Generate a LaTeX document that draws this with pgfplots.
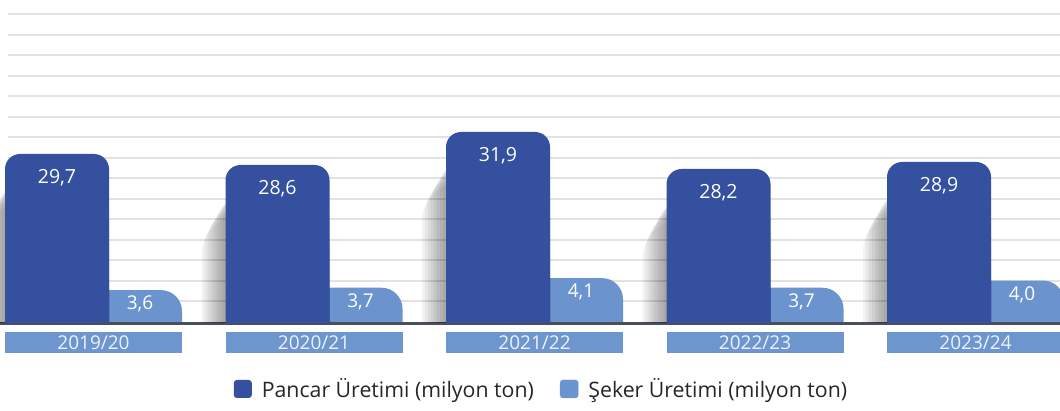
\documentclass[border=0pt]{standalone}
\usepackage{fontspec}
\setmainfont{Open Sans}
\usepackage{pgfplots}
\pgfplotsset{compat=1.18}
\definecolor{beet}{RGB}{52,80,158}
\definecolor{sugar}{RGB}{107,148,206}
\definecolor{yearbox}{RGB}{109,150,207}
\definecolor{yeartext}{RGB}{238,242,248}
\definecolor{basecol}{RGB}{74,79,94}
\definecolor{gridcol}{RGB}{226,226,226}
\pgfplotstableread{
x beet sugar
0 29.7 3.6
1 28.6 3.7
2 31.9 4.1
3 28.2 3.7
4 28.9 4.0
}\datatable
\pgfplotsset{
  valuelabel/.style={nodes near coords={\pgfmathprintnumber[fixed,fixed zerofill,precision=1,use comma]{\pgfplotspointmeta}}},
  shadowlayer/.style n args={3}{ybar, bar width={104pt+#1}, bar shift={-36.5pt-0.5*#1}, fill=black, fill opacity=0.05, draw=none,
    rounded corners=#3, yshift=#2, forget plot},
}
\begin{document}
\fontsize{19}{22}\selectfont
\begin{tikzpicture}
% background grid
\begin{axis}[
  at={(8pt,86.5pt)}, anchor=south west,
  width=1052pt, height=313.5pt, scale only axis,
  xmin=0, xmax=1, ymin=-1.5, ymax=312,
  axis line style={draw=none}, tick style={draw=none},
  xtick=\empty, yticklabels={},
  ytick={20.53,41.06,61.59,82.12,102.65,123.18,143.71,164.24,184.77,205.3,225.83,246.36,266.89,287.42,307.95},
  ymajorgrids, major grid style={draw=gridcol, line width=2pt},
]
\end{axis}
% sugar (behind) + baseline
\begin{axis}[
  at={(0pt,56.5pt)}, anchor=south west,
  width=1060pt, height=343.5pt, scale only axis,
  xmin=-0.42404, xmax=4.38322, ymin=0.96, ymax=15.27,
  axis line style={draw=none}, tick style={draw=none},
  xtick=\empty, ytick=\empty,
  extra y ticks={2.21}, extra y tick labels={},
  extra y tick style={ymajorgrids, major grid style={draw=basecol, line width=3pt}},
  clip=false,
  /pgf/number format/assume math mode=true,
]
\clip (axis cs:-0.42404,2.2725) rectangle (axis cs:4.38322,15.27);
\addplot[ybar, bar width=104pt, bar shift=36.5pt, fill=sugar, draw=none,
  rounded corners=21pt, valuelabel,
  every node near coord/.append style={anchor=center, yshift=-14pt, xshift=46.5pt, text=white, font=\fontsize{19}{22}\selectfont, rounded corners=0pt},
] table[x=x, y=sugar] {\datatable};
\end{axis}
% beet (front)
\begin{axis}[
  at={(0pt,56.5pt)}, anchor=south west,
  width=1060pt, height=343.5pt, scale only axis,
  xmin=-0.42404, xmax=4.38322, ymin=9.75, ymax=44.1,
  axis line style={draw=none}, hide y axis,
  xtick={0,1,2,3,4},
  xticklabels={2019/20,2020/21,2021/22,2022/23,2023/24},
  xtick style={draw=none},
  xticklabel style={fill=yearbox, text=yeartext, minimum width=177pt, minimum height=21pt, inner sep=0pt, anchor=south, yshift=0.5pt, font=\fontsize{19}{21}\selectfont},
  clip=false,
  /pgf/number format/assume math mode=true,
  legend style={at={(axis description cs:0.5108,-0.1033)}, anchor=center, draw=none, fill=none,
    legend columns=2, font=\fontsize{21.3}{24}\selectfont, text=black!85,
    /tikz/every odd column/.append style={column sep=8pt},
    /tikz/every even column/.append style={column sep=24pt}},
  legend cell align=left,
]
\clip (axis cs:-0.42404,12.9) rectangle (axis cs:4.38322,44.1);
% soft shadow layers to the left of each bar
\addplot[shadowlayer={3pt}{-30pt}{18pt}] table[x=x, y=beet] {\datatable};
\addplot[shadowlayer={6pt}{-32pt}{21pt}] table[x=x, y=beet] {\datatable};
\addplot[shadowlayer={9pt}{-34pt}{24pt}] table[x=x, y=beet] {\datatable};
\addplot[shadowlayer={12pt}{-37pt}{27pt}] table[x=x, y=beet] {\datatable};
\addplot[shadowlayer={15pt}{-40pt}{30pt}] table[x=x, y=beet] {\datatable};
\addplot[shadowlayer={18pt}{-43pt}{33pt}] table[x=x, y=beet] {\datatable};
\addplot[shadowlayer={21pt}{-46pt}{36pt}] table[x=x, y=beet] {\datatable};
\addplot[shadowlayer={24pt}{-50pt}{40pt}] table[x=x, y=beet] {\datatable};
\addplot[ybar, bar width=104pt, bar shift=-36.5pt, fill=beet, draw=none,
  rounded corners=15pt, valuelabel,
  every node near coord/.append style={anchor=center, yshift=-23.5pt, xshift=-36.5pt, text=white, font=\fontsize{19.5}{22}\selectfont, rounded corners=0pt},
  legend image code/.code={\fill[beet, rounded corners=3pt] (0pt,-9pt) rectangle (18pt,9pt);},
] table[x=x, y=beet] {\datatable};
\addlegendentry{Pancar Üretimi (milyon ton)}
\addlegendimage{legend image code/.code={\fill[sugar, rounded corners=3pt] (0pt,-9pt) rectangle (18pt,9pt);}}
\addlegendentry{Şeker Üretimi (milyon ton)}
\end{axis}
\pgfresetboundingbox
\useasboundingbox (0pt,0pt) rectangle (1060pt,410pt);
\end{tikzpicture}
\end{document}
